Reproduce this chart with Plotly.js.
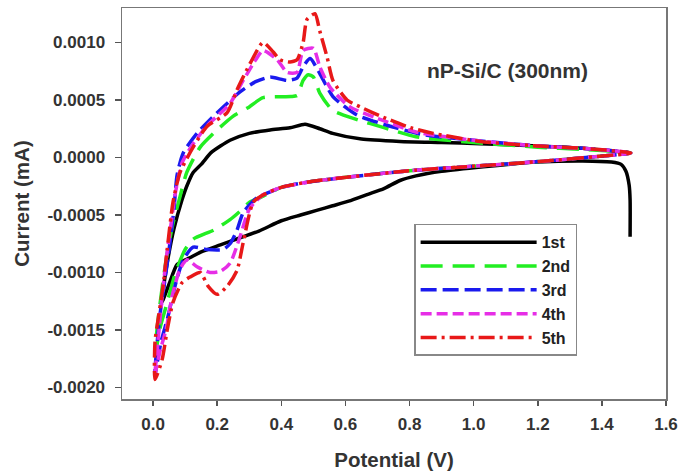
<!DOCTYPE html>
<html>
<head>
<meta charset="utf-8">
<script src="https://cdn.plot.ly/plotly-3.0.1.min.js"></script>
<style>html,body{margin:0;padding:0;background:#fff;}#chart{width:686px;height:471px;}</style>
</head>
<body>
<div id="chart"></div>
<script>
// Cycle 1 (black)
const c1x = [1.488,1.488,1.485,1.475,1.46,1.43,1.34,1.2,1.03,0.9,0.82,0.77,0.72,0.67,0.61,0.56,0.51,0.46,0.40,0.33,0.27,0.21,0.15,0.116,0.075,0.05,0.031,0.027,
  0.035,0.045,0.065,0.09,0.105,0.125,0.15,0.18,0.21,0.24,0.30,0.365,0.427,0.474,0.52,0.56,0.65,0.77,0.9,1.02,1.2,1.34,1.49];
const c1y = [-0.00069,-0.00037,-0.00024,-0.00012,-0.00006,-0.00004,-0.00003,-0.00004,-0.00008,-0.00012,-0.00016,-0.0002,-0.00027,-0.00032,-0.00038,-0.00042,-0.00046,-0.0005,-0.00055,-0.00064,-0.0007,-0.00076,-0.00082,-0.00087,-0.00093,-0.0011,-0.00124,-0.00126,
  -0.00108,-0.0009,-0.00062,-0.00037,-0.00025,-0.00013,-0.00006,0.00004,0.0001,0.00015,0.00021,0.00024,0.000258,0.00029,0.00025,0.00021,0.00016,0.00014,0.00013,0.00012,0.0001,0.00008,0.00004];

// Cycle 2 (green)
const c2x = [1.49,1.34,1.135,0.82,0.61,0.49,0.4,0.34,0.3,0.27,0.24,0.19,0.125,0.1,0.07,0.04,0.02,0.008,
  0.012,0.025,0.04,0.06,0.084,0.105,0.147,0.2,0.25,0.3,0.343,0.43,0.45,0.468,0.484,0.5,0.52,0.56,0.636,0.72,0.82,0.96,1.2,1.34,1.49];
const c2y = [0.00004,-0.000003,-0.00005,-0.00011,-0.00017,-0.00021,-0.00026,-0.00034,-0.00039,-0.00047,-0.00054,-0.00063,-0.00071,-0.0008,-0.001,-0.0013,-0.0015,-0.0017,
  -0.0015,-0.0012,-0.0009,-0.0006,-0.00034,-0.00013,0.00009,0.00024,0.00036,0.00044,0.00052,0.00053,0.00054,0.00067,0.00072,0.0007,0.00056,0.00041,0.00033,0.00026,0.00018,0.00014,0.00009,0.00007,0.00004];

// Cycle 3 (blue)
const c3x = [1.49,1.34,1.135,0.82,0.61,0.49,0.4,0.34,0.324,0.281,0.262,0.24,0.218,0.168,0.125,0.094,0.07,0.045,0.025,0.005,
  0.01,0.02,0.035,0.05,0.065,0.075,0.094,0.137,0.2,0.271,0.32,0.365,0.418,0.449,0.468,0.49,0.52,0.561,0.636,0.73,0.842,1.0,1.2,1.34,1.49];
const c3y = [0.00004,-0.000003,-0.00005,-0.00011,-0.00017,-0.00021,-0.00026,-0.00033,-0.00035,-0.00048,-0.00063,-0.00075,-0.0008,-0.0008,-0.00078,-0.00089,-0.0011,-0.0014,-0.0016,-0.0019,
  -0.0017,-0.0014,-0.0011,-0.0008,-0.00045,-0.00015,0.00004,0.00021,0.00039,0.00057,0.00066,0.0007,0.00067,0.00069,0.00079,0.00086,0.00073,0.00053,0.00037,0.00028,0.0002,0.00015,0.0001,0.00008,0.00004];

// Cycle 4 (magenta)
const c4x = [1.49,1.34,1.135,0.82,0.61,0.49,0.4,0.34,0.3,0.271,0.24,0.21,0.178,0.137,0.106,0.084,0.06,0.04,0.02,0.005,
  0.012,0.025,0.04,0.055,0.07,0.09,0.125,0.17,0.24,0.281,0.32,0.343,0.387,0.418,0.449,0.468,0.5,0.52,0.552,0.614,0.7,0.823,1.0,1.2,1.34,1.49];
const c4y = [0.00004,-0.000003,-0.00005,-0.00011,-0.00017,-0.00021,-0.00026,-0.00033,-0.00045,-0.00069,-0.00092,-0.00099,-0.001,-0.00095,-0.00089,-0.00097,-0.0012,-0.0015,-0.0017,-0.0019,
  -0.0017,-0.0013,-0.0009,-0.0006,-0.0003,-0.00005,0.00012,0.00028,0.00047,0.00067,0.00085,0.00093,0.00085,0.00074,0.00074,0.00093,0.00095,0.00079,0.00061,0.00044,0.00034,0.00022,0.00015,0.0001,0.00008,0.00004];

// Cycle 5 (red)
const c5x = [1.49,1.34,1.135,0.82,0.61,0.49,0.4,0.34,0.312,0.281,0.262,0.231,0.2,0.172,0.147,0.115,0.09,0.062,0.044,0.028,0.006,
  0.006,0.016,0.031,0.044,0.062,0.084,0.125,0.168,0.231,0.262,0.303,0.343,0.374,0.396,0.427,0.449,0.468,0.48,0.505,0.52,0.543,0.561,0.605,0.646,0.718,0.802,0.874,1.02,1.2,1.34,1.49];
const c5y = [0.00004,-0.000003,-0.00005,-0.00011,-0.00017,-0.00021,-0.00026,-0.00033,-0.00039,-0.00074,-0.00098,-0.00112,-0.00119,-0.00112,-0.001,-0.00104,-0.00109,-0.00126,-0.0015,-0.00176,-0.00193,
  -0.0016,-0.0014,-0.00112,-0.0008,-0.00039,-0.00013,0.00009,0.00027,0.00039,0.00059,0.00082,0.001,0.00092,0.00085,0.00083,0.00085,0.001,0.0012,0.00125,0.0011,0.00087,0.00067,0.0005,0.00044,0.00035,0.00026,0.00021,0.00014,0.0001,0.00008,0.00004];

const seriesNames = ['1st','2nd','3rd','4th','5th'];
const xTicks = [0.0,0.2,0.4,0.6,0.8,1.0,1.2,1.4,1.6];
const xTickText = ['0.0','0.2','0.4','0.6','0.8','1.0','1.2','1.4','1.6'];
const yTicks = [-0.002,-0.0015,-0.001,-0.0005,0,0.0005,0.001];
const yTickText = ['-0.0020','-0.0015','-0.0010','-0.0005','0.0000','0.0005','0.0010'];

const xs = [c1x,c2x,c3x,c4x,c5x];
const ys = [c1y,c2y,c3y,c4y,c5y];
const colors = ['#000000','#22ee22','#1a1aee','#e62ee6','#e81818'];
const dashes = ['solid','22px,10px','16px,6px','11px,5px','16px,5px,3px,5px'];
const widths = [3.5,3.5,3.5,3.5,3.5];

const traces = seriesNames.map((n,i)=>({
  x: xs[i], y: ys[i], type:'scatter', mode:'lines', name:n,
  line:{color:colors[i], width:widths[i], dash:dashes[i], shape:'spline', smoothing:0.6}
}));

const fam = 'Arial, "Liberation Sans", sans-serif';
const layout = {
  width:686, height:471,
  margin:{l:122, r:20, t:8, b:72},
  paper_bgcolor:'#fff', plot_bgcolor:'#fff',
  showlegend:true,
  legend:{x:0.537, y:0.448, xanchor:'left', yanchor:'top', bgcolor:'#fff', bordercolor:'#888', borderwidth:1.5,
    font:{family:fam, size:16, color:'#222', weight:'bold'}, itemwidth:116, tracegroupgap:0},
  xaxis:{range:[-0.097,1.6], tickvals:xTicks, ticktext:xTickText, ticks:'outside', ticklen:5, tickwidth:1.5, tickcolor:'#555',
    showline:true, linecolor:'#777', linewidth:1.5, mirror:true, showgrid:false, zeroline:false, ticklabelstandoff:4,
    tickfont:{family:fam, size:17, color:'#333', weight:'bold'},
    title:{text:'Potential (V)', font:{family:fam, size:20.5, color:'#333', weight:'bold'}, standoff:19}},
  yaxis:{range:[-0.0021,0.0013], tickvals:yTicks, ticktext:yTickText, ticks:'outside', ticklen:6, tickwidth:1.5, tickcolor:'#555',
    showline:true, linecolor:'#777', linewidth:1.5, mirror:true, showgrid:false, zeroline:false, ticklabelstandoff:6,
    tickfont:{family:fam, size:17, color:'#333', weight:'bold'},
    title:{text:'Current (mA)', font:{family:fam, size:20.5, color:'#333', weight:'bold'}, standoff:12}},
  annotations:[{text:'nP-Si/C (300nm)', xref:'paper', yref:'paper', x:0.708, y:0.841, xanchor:'center', yanchor:'middle', showarrow:false,
    font:{family:fam, size:21, color:'#333', weight:'bold'}}]
};
Plotly.newPlot('chart', traces, layout, {displayModeBar:false, staticPlot:true});
</script>
</body>
</html>
